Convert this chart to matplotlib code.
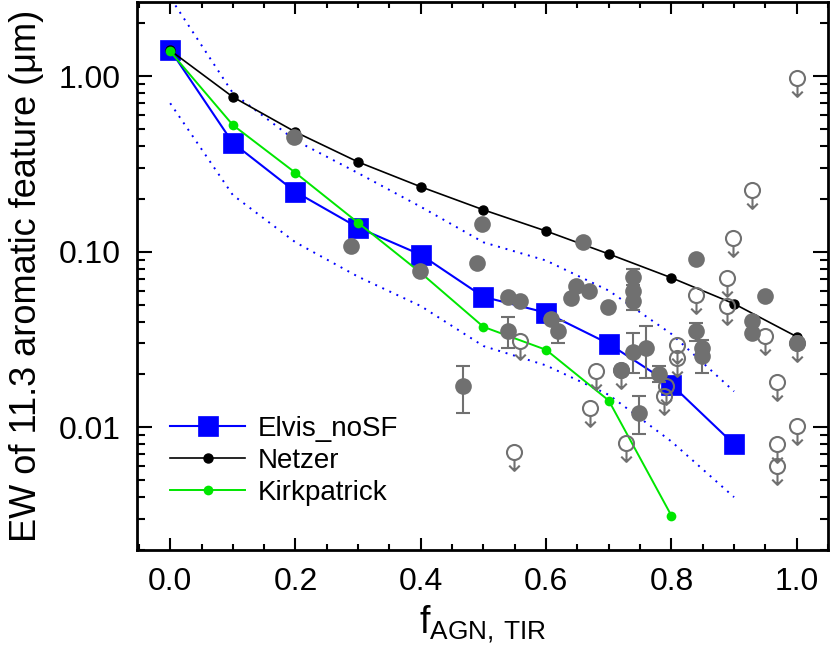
import matplotlib
matplotlib.use("Agg")
import matplotlib.pyplot as plt
from matplotlib.path import Path
from matplotlib.ticker import FixedLocator, MultipleLocator, LogLocator, FuncFormatter, NullFormatter

plt.rcParams['font.family'] = ['Liberation Sans', 'DejaVu Sans']
plt.rcParams['mathtext.fontset'] = 'custom'
plt.rcParams['mathtext.rm'] = 'Liberation Sans'

# model templates
f_elvis = [0.0, 0.1, 0.2, 0.3, 0.4, 0.5, 0.6, 0.7, 0.8, 0.9]
ew_elvis = [1.41, 0.416, 0.219, 0.137, 0.096, 0.0553, 0.0449, 0.0299, 0.0175, 0.0080]
ew_elvis_hi = [2.8, 0.80, 0.43, 0.28, 0.18, 0.113, 0.089, 0.060, 0.034, 0.016]
ew_elvis_lo = [0.70, 0.21, 0.113, 0.072, 0.049, 0.029, 0.0225, 0.0153, 0.0083, 0.0040]
f_netzer = [0.0, 0.1, 0.2, 0.3, 0.4, 0.5, 0.6, 0.7, 0.8, 0.9, 1.0]
ew_netzer = [1.40, 0.76, 0.48, 0.324, 0.234, 0.173, 0.131, 0.097, 0.071, 0.0505, 0.0328]
f_kirk = [0.0, 0.1, 0.2, 0.3, 0.4, 0.5, 0.6, 0.7, 0.8]
ew_kirk = [1.38, 0.526, 0.281, 0.146, 0.0757, 0.0373, 0.0276, 0.0142, 0.00314]

# detections
det_f = [0.198, 0.288, 0.398, 0.498, 0.489, 0.659, 0.539, 0.558, 0.648, 0.639,
         0.668, 0.699, 0.739, 0.739, 0.739, 0.608, 0.619, 0.539, 0.467, 0.719,
         0.739, 0.759, 0.748, 0.780, 0.839, 0.839, 0.849, 0.849, 0.949, 0.929,
         0.929, 1.0]
det_ew = [0.452, 0.107, 0.078, 0.143, 0.086, 0.113, 0.0555, 0.0525, 0.0640, 0.0544,
          0.0593, 0.0483, 0.0716, 0.0598, 0.0525, 0.0413, 0.0351, 0.0351, 0.0171, 0.0211,
          0.0270, 0.0282, 0.0121, 0.0201, 0.0906, 0.0351, 0.0282, 0.0253, 0.0561, 0.0405,
          0.0344, 0.0302]

# detections with error bars
err_f = [0.739, 0.739, 0.619, 0.539, 0.467, 0.739, 0.759, 0.748, 0.780, 0.839, 0.849]
err_ew = [0.0716, 0.0525, 0.0351, 0.0351, 0.0171, 0.0270, 0.0282, 0.0121, 0.0201, 0.0351, 0.0253]
err_lo = [0.0650, 0.0467, 0.0302, 0.0283, 0.0120, 0.0205, 0.0190, 0.0091, 0.0180, 0.0310, 0.0204]
err_hi = [0.0795, 0.0590, 0.0405, 0.0424, 0.0222, 0.0346, 0.0375, 0.0150, 0.0222, 0.0390, 0.0316]

# upper limits
lim_f = [0.559, 0.679, 0.670, 0.728, 0.549, 0.809, 0.809, 0.791, 0.788, 1.0,
         0.929, 0.899, 0.889, 0.839, 0.889, 0.950, 1.0, 0.969, 1.0, 0.969,
         0.969, 0.719]
lim_ew = [0.0308, 0.0208, 0.0129, 0.0081, 0.0072, 0.0295, 0.0248, 0.0171, 0.0151, 0.97,
          0.225, 0.119, 0.0707, 0.0568, 0.0488, 0.0329, 0.0302, 0.0182, 0.0101, 0.0080,
          0.0060, 0.0211]

gray = '#707070'
blue = '#0000ff'
green = '#00e600'

# open circle with a downward arrow
circ = Path.circle((0, 0), 1.0)
stem = Path([(0, -1.0), (0, -2.45)], [Path.MOVETO, Path.LINETO])
head = Path([(-0.7, -1.75), (0, -2.45), (0.7, -1.75)], [Path.MOVETO, Path.LINETO, Path.LINETO])
ulim_marker = Path.make_compound_path(circ, stem, head)

fig = plt.figure(figsize=(8.3, 6.53), dpi=100)
ax = fig.add_axes([137 / 830, 103 / 653, 691 / 830, 548 / 653])

ax.plot(f_elvis, ew_elvis_hi, color=blue, lw=1.4, linestyle=(0, (1, 3)))
ax.plot(f_elvis, ew_elvis_lo, color=blue, lw=1.4, linestyle=(0, (1, 3)))

ax.plot(f_elvis, ew_elvis, color=blue, lw=1.5, marker='s', ms=14, mec=blue, mew=0.5,
        label='Elvis_noSF')
ax.plot(f_netzer, ew_netzer, color='black', lw=1.2, marker='o', ms=6.5, label='Netzer')
ax.plot(f_kirk, ew_kirk, color=green, lw=1.4, marker='o', ms=7, mew=0, label='Kirkpatrick')

ax.errorbar(err_f, err_ew,
            yerr=[[e - l for e, l in zip(err_ew, err_lo)], [h - e for e, h in zip(err_ew, err_hi)]],
            fmt='none', ecolor=gray, elinewidth=1.5, capsize=5, capthick=1.5)
ax.plot(lim_f, lim_ew, linestyle='none', marker=ulim_marker, ms=26.5, mfc='none',
        mec=gray, mew=1.5)
ax.plot(det_f, det_ew, linestyle='none', marker='o', ms=12, color=gray, mew=0)

ax.set_yscale('log')
ax.set_xlim(-0.053, 1.05)
ax.set_ylim(0.002, 2.64)

ax.xaxis.set_major_locator(FixedLocator([0.0, 0.2, 0.4, 0.6, 0.8, 1.0]))
ax.xaxis.set_minor_locator(MultipleLocator(0.05))
ax.xaxis.set_major_formatter(FuncFormatter(lambda v, p: '%.1f' % v))
ax.yaxis.set_major_locator(FixedLocator([0.01, 0.1, 1.0]))
ax.yaxis.set_minor_locator(LogLocator(base=10, subs=range(2, 10)))
ax.yaxis.set_major_formatter(FuncFormatter(lambda v, p: '%.2f' % v))
ax.yaxis.set_minor_formatter(NullFormatter())

ax.tick_params(axis='both', which='both', direction='in', top=True, right=True, width=1.5,
               labelsize=23)
ax.tick_params(axis='x', which='major', length=8.5, pad=12)
ax.tick_params(axis='x', which='minor', length=4.3)
ax.tick_params(axis='y', which='major', length=11, pad=12)
ax.tick_params(axis='y', which='minor', length=6)
for s in ax.spines.values():
    s.set_linewidth(2)

ax.set_xlabel(r'f$_{\mathrm{AGN,\,TIR}}$', fontsize=27, labelpad=5)
ax.set_ylabel('EW of 11.3 aromatic feature (\u03bcm)', fontsize=26, labelpad=10)

ax.legend(loc='upper left', bbox_to_anchor=(170 / 830, 1 - 416 / 653),
          bbox_transform=fig.transFigure, frameon=False, fontsize=20,
          handlelength=2.7, handletextpad=0.47, labelspacing=0.22,
          borderpad=0, borderaxespad=0)

fig.savefig('out.png', dpi=100)
